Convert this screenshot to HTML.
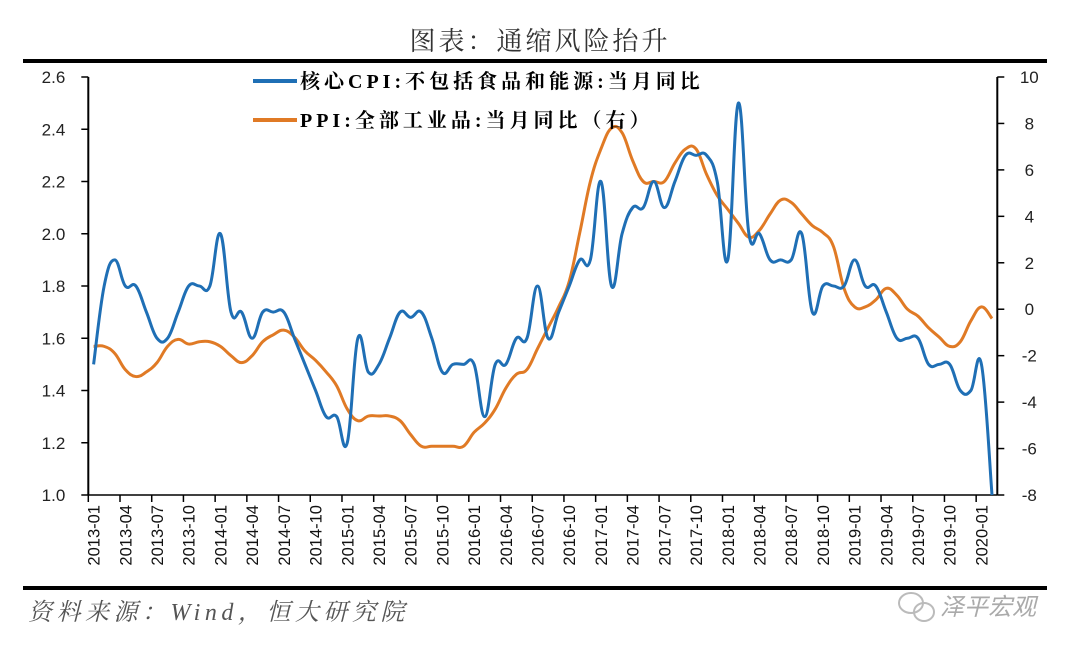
<!DOCTYPE html>
<html><head><meta charset="utf-8"><style>
html,body{margin:0;padding:0;background:#fff;}
body{width:1080px;height:654px;overflow:hidden;position:relative;}
svg{position:absolute;left:0;top:0;}
</style></head><body>
<svg id="chart" width="1080" height="654" viewBox="0 0 1080 654">
<text x="540" y="50" text-anchor="middle" font-family="'Liberation Serif','Noto Serif CJK SC',serif" font-size="26" fill="#333" letter-spacing="3">图表：通缩风险抬升</text>
<line x1="23" y1="61" x2="1047" y2="61" stroke="#000" stroke-width="4"/>
<line x1="23" y1="588" x2="1047" y2="588" stroke="#000" stroke-width="4"/>
<g id="axes"></g>
<g id="series"></g>
<g>
 <line x1="253" y1="81" x2="297" y2="81" stroke="#1f6fb5" stroke-width="4"/>
 <text x="300" y="88" font-family="'Liberation Serif','Noto Serif CJK SC',serif" font-weight="bold" font-size="20" letter-spacing="4" fill="#000">核心CPI:不包括食品和能源:当月同比</text>
 <line x1="253" y1="120" x2="297" y2="120" stroke="#e07a25" stroke-width="4"/>
 <text x="300" y="127" font-family="'Liberation Serif','Noto Serif CJK SC',serif" font-weight="bold" font-size="20" letter-spacing="4" fill="#000">PPI:全部工业品:当月同比（右）</text>
</g>
<text x="28" y="620" font-family="'Liberation Serif','Noto Serif CJK SC',serif" font-style="italic" font-size="24" letter-spacing="4.5" fill="#555">资料来源：Wind，恒大研究院</text>
<g>
 <ellipse cx="911" cy="603" rx="12" ry="10" fill="none" stroke="#bbb" stroke-width="2"/>
 <ellipse cx="924" cy="612" rx="10" ry="9" fill="none" stroke="#bbb" stroke-width="2"/>
 <text x="940" y="615" font-family="'Liberation Sans','Noto Sans CJK SC',sans-serif" font-style="italic" font-size="24" fill="#aaa">泽平宏观</text>
</g>
</svg>
<script>
const coreCpi=[1.5,1.8,1.9,1.8,1.8,1.7,1.6,1.6,1.7,1.8,1.8,1.8,2.0,1.7,1.7,1.6,1.7,1.7,1.7,1.6,1.5,1.4,1.3,1.3,1.2,1.6,1.47,1.5,1.6,1.7,1.68,1.7,1.6,1.47,1.5,1.5,1.5,1.3,1.5,1.5,1.6,1.6,1.8,1.6,1.7,1.8,1.9,1.9,2.2,1.8,2.0,2.1,2.1,2.2,2.1,2.2,2.3,2.3,2.3,2.2,1.9,2.5,2.0,2.0,1.9,1.9,1.9,2.0,1.7,1.8,1.8,1.8,1.9,1.8,1.8,1.7,1.6,1.6,1.6,1.5,1.5,1.5,1.4,1.4,1.5,1.0];
const ppi=[-1.6,-1.6,-1.9,-2.6,-2.9,-2.7,-2.3,-1.6,-1.3,-1.5,-1.4,-1.4,-1.6,-2.0,-2.3,-2.0,-1.4,-1.1,-0.9,-1.2,-1.8,-2.2,-2.7,-3.3,-4.3,-4.8,-4.6,-4.6,-4.6,-4.8,-5.4,-5.9,-5.9,-5.9,-5.9,-5.9,-5.3,-4.9,-4.3,-3.4,-2.8,-2.6,-1.7,-0.8,0.1,1.2,3.3,5.5,6.9,7.8,7.6,6.4,5.5,5.5,5.5,6.3,6.9,6.9,5.8,4.9,4.3,3.7,3.1,3.4,4.1,4.7,4.6,4.1,3.6,3.3,2.7,0.9,0.1,0.1,0.4,0.9,0.6,0.0,-0.3,-0.8,-1.2,-1.6,-1.4,-0.5,0.1,-0.4];
const leftTicks=["1.0","1.2","1.4","1.6","1.8","2.0","2.2","2.4","2.6"];
const rightTicks=["-8","-6","-4","-2","0","2","4","6","8","10"];
const startYear=2013;

const NS="http://www.w3.org/2000/svg";
const X0=88.3,X1=997.3,Y0=77,Y1=495;
const N=coreCpi.length;
const bw=(X1-X0)/N;
const xc=i=>X0+bw*(i+0.5);
const yL=v=>Y1-(v-1.0)/(2.6-1.0)*(Y1-Y0);
const yR=v=>Y1-(v+8)/18*(Y1-Y0);
function mk(tag,attrs,parent){const e=document.createElementNS(NS,tag);for(const k in attrs)e.setAttribute(k,attrs[k]);parent.appendChild(e);return e;}
const axes=document.getElementById('axes');
const ser=document.getElementById('series');
const font="'Liberation Sans',sans-serif";
let e;
e=mk('line',{x1:X0,y1:Y0,x2:X0,y2:Y1,stroke:'#000','stroke-width':2},axes);


e=mk('line',{x1:X1,y1:Y0,x2:X1,y2:Y1,stroke:'#000','stroke-width':2},axes);


e=mk('line',{x1:X0,y1:Y1,x2:X1,y2:Y1,stroke:'#000','stroke-width':1.5},axes);


leftTicks.forEach(t=>{const y=yL(parseFloat(t));
 mk('line',{x1:X0-7,y1:y,x2:X0,y2:y,stroke:'#000','stroke-width':1.5},axes);
 e=mk('text',{x:X0-23,y:y+6,'text-anchor':'end','font-family':font,'font-size':17,fill:'#222'},axes);e.textContent=t;
 
 });
rightTicks.forEach(t=>{const y=yR(parseFloat(t));
 mk('line',{x1:X1,y1:y,x2:X1+7,y2:y,stroke:'#000','stroke-width':1.5},axes);
 e=mk('text',{x:X1+32,y:y+6,'text-anchor':'middle','font-family':font,'font-size':17,fill:'#222'},axes);e.textContent=t;
 
 });
for(let i=0;i<N;i+=3){
 const x=X0+bw*i;
 mk('line',{x1:x,y1:Y1,x2:x,y2:Y1+7,stroke:'#000','stroke-width':1.5},axes);
 const yr=startYear+Math.floor(i/12),m=i%12+1;
 const lab=yr+'-'+(m<10?'0':'')+m;
 const cx=xc(i)+6;
 e=mk('text',{x:cx,y:505,transform:`rotate(-90 ${cx} 505)`,'text-anchor':'end','font-family':font,'font-size':16.5,fill:'#111'},axes);e.textContent=lab;
 
 
}
function smooth(pts){let d=`M${pts[0][0]},${pts[0][1]}`;const t=0.2;
 for(let i=0;i<pts.length-1;i++){const p0=pts[i-1]||pts[i],p1=pts[i],p2=pts[i+1],p3=pts[i+2]||p2;
 const c1=[p1[0]+(p2[0]-p0[0])*t,p1[1]+(p2[1]-p0[1])*t],c2=[p2[0]-(p3[0]-p1[0])*t,p2[1]-(p3[1]-p1[1])*t];
 d+=` C${c1[0]},${c1[1]} ${c2[0]},${c2[1]} ${p2[0]},${p2[1]}`;}return d;}
e=mk('path',{d:smooth(ppi.map((v,i)=>[xc(i),yR(v)])),fill:'none',stroke:'#e07a25','stroke-width':3,'stroke-linejoin':'round'},ser);


e=mk('path',{d:smooth(coreCpi.map((v,i)=>[xc(i),yL(v)])),fill:'none',stroke:'#1f6fb5','stroke-width':3,'stroke-linejoin':'round'},ser);


</script>
</body></html>
